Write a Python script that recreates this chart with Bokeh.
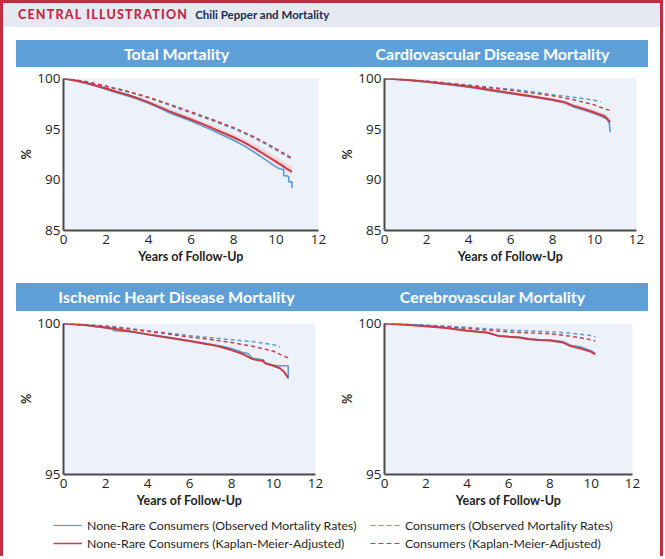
from bokeh.plotting import figure
from bokeh.models import Div, Spacer, Range1d, Legend, LegendItem
from bokeh.layouts import column, row
from bokeh.embed import file_html
from bokeh.resources import INLINE

# ---------------- texts ----------------
header_label = "CENTRAL ILLUSTRATION"
header_title = "Chili Pepper and Mortality"
panel_titles = ["Total Mortality", "Cardiovascular Disease Mortality",
                "Ischemic Heart Disease Mortality", "Cerebrovascular Mortality"]
x_label = "Years of Follow-Up"
y_label = "%"
x_ticks = [0, 2, 4, 6, 8, 10, 12]
y_ticks_top = [85, 90, 95, 100]
y_ticks_bottom = [95, 100]
series_labels = ["None-Rare Consumers (Observed Mortality Rates)",
                 "None-Rare Consumers (Kaplan-Meier-Adjusted)",
                 "Consumers (Observed Mortality Rates)",
                 "Consumers (Kaplan-Meier-Adjusted)"]

# ---------------- data: Total mortality ----------------
tot_nr_obs_t = [0, 0.5, 1, 1.5, 2, 2.5, 3, 3.5, 4, 4.5, 5, 5.5, 6, 6.5, 7, 7.5, 8, 8.5, 9, 9.5,
                9.9, 10.1, 10.36, 10.36, 10.5, 10.6, 10.6, 10.75, 10.75]
tot_nr_obs_y = [100, 99.8, 99.55, 99.25, 98.95, 98.6, 98.3, 97.95, 97.55, 97.1, 96.6, 96.2, 95.8,
                95.35, 94.9, 94.4, 93.9, 93.35, 92.7, 92.0, 91.4, 91.15, 91.0, 90.4, 90.4, 90.3,
                89.8, 89.8, 89.2]
tot_nr_km_t = [0, 0.5, 1, 1.5, 2, 2.5, 3, 3.5, 4, 4.5, 5, 5.5, 6, 6.5, 7, 7.5, 8, 8.5, 9, 9.5,
               10, 10.3, 10.5, 10.75]
tot_nr_km_y = [100, 99.82, 99.6, 99.32, 99.02, 98.7, 98.4, 98.05, 97.65, 97.2, 96.75, 96.35,
               95.95, 95.55, 95.1, 94.65, 94.2, 93.7, 93.1, 92.45, 91.8, 91.4, 91.1, 90.8]
tot_band_t = [0, 2, 4, 6, 8, 9, 10, 10.5, 10.75]
tot_band_lo = [100, 98.95, 97.5, 95.75, 93.95, 92.85, 91.5, 90.8, 90.5]
tot_band_hi = [100, 99.12, 97.85, 96.25, 94.55, 93.55, 92.3, 91.6, 91.3]
tot_c_obs_t = [0, 1, 2, 3, 4, 5, 6, 7, 8, 8.5, 9, 9.5, 10, 10.5, 10.75]
tot_c_obs_y = [100, 99.7, 99.2, 98.7, 98.1, 97.35, 96.6, 95.85, 95.05, 94.6, 94.1, 93.55,
               92.95, 92.35, 92.05]
tot_c_km_t = [0, 1, 2, 3, 4, 5, 6, 7, 8, 9, 9.5, 10, 10.5, 10.8]
tot_c_km_y = [100, 99.72, 99.25, 98.75, 98.15, 97.45, 96.7, 95.95, 95.15, 94.2, 93.65, 93.05,
              92.45, 92.1]

# ---------------- data: Cardiovascular disease mortality ----------------
cvd_nr_obs_t = [0, 1, 2, 3, 4, 5, 6, 7, 8, 8.6, 9, 9.5, 10, 10.4, 10.6, 10.7, 10.75]
cvd_nr_obs_y = [100, 99.85, 99.65, 99.42, 99.15, 98.82, 98.5, 98.2, 97.85, 97.6, 97.2, 96.9,
                96.55, 96.2, 96.0, 95.6, 94.7]
cvd_nr_km_t = [0, 1, 2, 3, 4, 5, 6, 7, 8, 8.6, 9, 9.5, 10, 10.5, 10.75]
cvd_nr_km_y = [100, 99.87, 99.68, 99.45, 99.2, 98.88, 98.57, 98.25, 97.9, 97.65, 97.3, 97.0,
               96.65, 96.25, 95.7]
cvd_band_t = [0, 2, 4, 6, 8, 9, 10, 10.5, 10.75]
cvd_band_lo = [100, 99.62, 99.12, 98.45, 97.75, 97.1, 96.45, 96.0, 95.4]
cvd_band_hi = [100, 99.74, 99.3, 98.7, 98.08, 97.55, 96.9, 96.55, 96.1]
cvd_c_obs_t = [0, 2, 4, 6, 7, 8, 9, 9.5, 10, 10.3]
cvd_c_obs_y = [100, 99.75, 99.35, 98.95, 98.7, 98.4, 98.15, 98.0, 97.85, 97.7]
cvd_c_km_t = [0, 2, 4, 6, 8, 9, 10, 10.5, 10.8]
cvd_c_km_y = [100, 99.72, 99.3, 98.85, 98.3, 97.9, 97.4, 97.0, 96.8]

# ---------------- data: Ischemic heart disease mortality ----------------
ihd_nr_obs_t = [0, 1, 2, 2.35, 2.4, 3, 3.5, 4, 5, 6, 7, 7.5, 8, 8.5, 8.8, 9, 9.5, 9.6, 10,
                10.2, 10.7, 10.7]
ihd_nr_obs_y = [100, 99.95, 99.85, 99.82, 99.76, 99.74, 99.7, 99.64, 99.54, 99.43, 99.31,
                99.25, 99.17, 99.05, 99.0, 98.85, 98.8, 98.7, 98.62, 98.6, 98.6, 98.17]
ihd_nr_km_t = [0, 1, 2, 3, 4, 5, 6, 7, 7.5, 8, 8.5, 9, 9.5, 9.6, 10, 10.3, 10.5, 10.7]
ihd_nr_km_y = [100, 99.95, 99.87, 99.76, 99.64, 99.53, 99.42, 99.3, 99.22, 99.12, 99.0,
               98.82, 98.76, 98.68, 98.6, 98.52, 98.4, 98.2]
ihd_c_obs_t = [0, 1, 2, 3, 4, 5, 6, 7, 8, 9, 10, 10.3]
ihd_c_obs_y = [100, 99.97, 99.92, 99.85, 99.76, 99.68, 99.6, 99.53, 99.46, 99.4, 99.3, 99.22]
ihd_c_km_t = [0, 2, 3, 4, 5, 6, 7, 8, 9, 10, 10.4, 10.7]
ihd_c_km_y = [100, 99.9, 99.83, 99.74, 99.65, 99.55, 99.47, 99.37, 99.25, 99.08, 98.95, 98.86]

# ---------------- data: Cerebrovascular mortality ----------------
cbv_nr_obs_t = [0, 1, 2, 3, 3.5, 4, 5, 5.5, 6, 6.5, 7, 7.5, 8, 8.6, 8.8, 9, 9.5, 10, 10.2]
cbv_nr_obs_y = [100, 99.97, 99.92, 99.86, 99.82, 99.77, 99.7, 99.6, 99.57, 99.55, 99.49,
                99.46, 99.45, 99.4, 99.35, 99.28, 99.22, 99.1, 99.0]
cbv_nr_km_t = [0, 1, 2, 3, 3.5, 4, 5, 5.5, 6, 6.5, 7, 7.5, 8, 8.6, 8.8, 9, 9.5, 10, 10.2]
cbv_nr_km_y = [100, 99.96, 99.91, 99.85, 99.8, 99.76, 99.69, 99.59, 99.56, 99.54, 99.48,
               99.45, 99.44, 99.38, 99.32, 99.25, 99.17, 99.06, 98.98]
cbv_c_obs_t = [0, 2, 4, 6, 8, 9, 10, 10.2]
cbv_c_obs_y = [100, 99.95, 99.87, 99.78, 99.73, 99.68, 99.6, 99.56]
cbv_c_km_t = [0, 2, 4, 6, 8, 9, 10, 10.2]
cbv_c_km_y = [100, 99.93, 99.84, 99.72, 99.66, 99.58, 99.46, 99.42]

# ---------------- styling ----------------
BLUE = "#5b9bd5"
RED = "#c83c48"
BAND = "#f2cdd4"
BAR = "#5e9fd8"
FRAME_BG = "#edf1f9"
AXIS = "#4a4a4a"
TXT = "#1e1e1e"
NAN = float("nan")


def title_div(text, w, h):
    return Div(text=text, width=w, height=h, margin=0,
               styles={"background-color": BAR, "color": "white",
                       "font-family": "Lato", "font-weight": "bold",
                       "font-size": "16px", "text-align": "center",
                       "line-height": f"{h}px", "overflow": "hidden"})


def make_panel(w, h, bl, br, bt, bb, ymin, yticks, series, band=None):
    p = figure(width=w, height=h, x_range=Range1d(0, 12), y_range=Range1d(ymin, 100),
               output_backend="svg", toolbar_location=None,
               min_border_left=bl, min_border_right=br, min_border_top=bt,
               min_border_bottom=bb)
    p.background_fill_color = FRAME_BG
    p.border_fill_color = "white"
    p.outline_line_color = None
    p.grid.visible = False
    p.xaxis.ticker = x_ticks
    p.yaxis.ticker = yticks
    for ax in (p.xaxis[0], p.yaxis[0]):
        ax.axis_line_color = AXIS
        ax.axis_line_width = 2
        ax.major_tick_line_color = None
        ax.minor_tick_line_color = None
        ax.major_tick_out = 0
        ax.major_tick_in = 0
        ax.major_label_text_font = "Open Sans"
        ax.major_label_text_font_size = "13.5px"
        ax.major_label_text_color = TXT
        ax.axis_label_text_font = "Lato"
        ax.axis_label_text_font_style = "bold"
        ax.axis_label_text_font_size = "12.5px"
        ax.axis_label_text_color = TXT
    p.xaxis.axis_label = x_label
    p.xaxis.major_label_standoff = 4
    p.xaxis.axis_label_standoff = 2
    p.yaxis.axis_label = y_label
    p.yaxis.major_label_standoff = 3
    p.yaxis.axis_label_standoff = 0
    if band is not None:
        bx, blo, bhi = band
        p.varea(x=bx, y1=blo, y2=bhi, fill_color=BAND, fill_alpha=0.75)
    (bt_, by_), (rt_, ry_), (ct_, cy_), (kt_, ky_) = series
    p.line(ct_, cy_, line_color=BLUE, line_width=1.5, line_dash="4 3")
    p.line(kt_, ky_, line_color=RED, line_width=1.5, line_dash="4 3")
    p.line(bt_, by_, line_color=BLUE, line_width=1.6)
    p.line(rt_, ry_, line_color=RED, line_width=2)
    return p


pA = make_panel(321, 216, 44, 19, 11, 53, 85, y_ticks_top,
                [(tot_nr_obs_t, tot_nr_obs_y), (tot_nr_km_t, tot_nr_km_y),
                 (tot_c_obs_t, tot_c_obs_y), (tot_c_km_t, tot_c_km_y)],
                band=(tot_band_t, tot_band_lo, tot_band_hi))
pB = make_panel(311, 216, 40, 12, 11, 53, 85, y_ticks_top,
                [(cvd_nr_obs_t, cvd_nr_obs_y), (cvd_nr_km_t, cvd_nr_km_y),
                 (cvd_c_obs_t, cvd_c_obs_y), (cvd_c_km_t, cvd_c_km_y)],
                band=(cvd_band_t, cvd_band_lo, cvd_band_hi))
pC = make_panel(321, 201, 44, 22, 12, 38, 95, y_ticks_bottom,
                [(ihd_nr_obs_t, ihd_nr_obs_y), (ihd_nr_km_t, ihd_nr_km_y),
                 (ihd_c_obs_t, ihd_c_obs_y), (ihd_c_km_t, ihd_c_km_y)])
pD = make_panel(311, 201, 40, 16, 12, 38, 95, y_ticks_bottom,
                [(cbv_nr_obs_t, cbv_nr_obs_y), (cbv_nr_km_t, cbv_nr_km_y),
                 (cbv_c_obs_t, cbv_c_obs_y), (cbv_c_km_t, cbv_c_km_y)])

# ---------------- legend figure ----------------
lf = figure(width=657, height=44, x_range=Range1d(0, 1), y_range=Range1d(0, 1),
            output_backend="svg", toolbar_location=None, x_axis_type=None,
            y_axis_type=None, min_border=0)
lf.grid.visible = False
lf.outline_line_color = None
lf.background_fill_color = "white"
lf.border_fill_color = "white"
r0 = lf.line([NAN], [NAN], line_color=BLUE, line_width=1.2)
r1 = lf.line([NAN], [NAN], line_color=RED, line_width=1.5)
r2 = lf.line([NAN], [NAN], line_color=BLUE, line_width=1.1, line_dash="5 3")
r3 = lf.line([NAN], [NAN], line_color=RED, line_width=1.1, line_dash="5 3")


def make_legend(items, loc, gw, so):
    lg = Legend(items=items, location=loc, orientation="vertical")
    lg.border_line_color = None
    lg.background_fill_alpha = 0
    lg.padding = 0
    lg.margin = 0
    lg.spacing = 2
    lg.glyph_width = gw
    lg.glyph_height = 16
    lg.label_height = 16
    lg.label_standoff = so
    lg.label_text_font = "Lato"
    lg.label_text_font_size = "12.3px"
    lg.label_text_color = TXT
    return lg


lf.add_layout(make_legend([LegendItem(label=series_labels[0], renderers=[r0]),
                           LegendItem(label=series_labels[1], renderers=[r1])], (50, 5), 29, 5))
lf.add_layout(make_legend([LegendItem(label=series_labels[2], renderers=[r2]),
                           LegendItem(label=series_labels[3], renderers=[r3])], (367, 5), 32, 3))

# ---------------- header ----------------
header = Div(text=(f'<span style="margin-left:15px;color:#c42847;font-family:Lato;'
                   f'font-weight:900;font-size:12.5px;letter-spacing:1.2px">{header_label}</span>'
                   f'<span style="margin-left:7px;color:#1c2b4d;font-family:Lato;'
                   f'font-weight:bold;font-size:11.5px">{header_title}</span>'),
             width=657, height=24, margin=0,
             styles={"background-color": "#e5eaf2", "line-height": "24px",
                     "white-space": "nowrap", "overflow": "hidden"})

top_row = row(Spacer(width=13, height=243),
              column(title_div(panel_titles[0], 321, 27), pA, spacing=0),
              column(title_div(panel_titles[1], 311, 27), pB, spacing=0), spacing=0)
bot_row = row(Spacer(width=13, height=229),
              column(title_div(panel_titles[2], 321, 28), pC, spacing=0),
              column(title_div(panel_titles[3], 311, 28), pD, spacing=0), spacing=0)

root = column(header, Spacer(width=657, height=13), top_row, bot_row, lf, spacing=0,
              styles={"border-left": "3px solid #bf2f40", "border-right": "3px solid #bf2f40",
                      "border-top": "3px solid #bf2f40", "background-color": "white"})

open("out.html", "w").write(file_html(root, INLINE))
